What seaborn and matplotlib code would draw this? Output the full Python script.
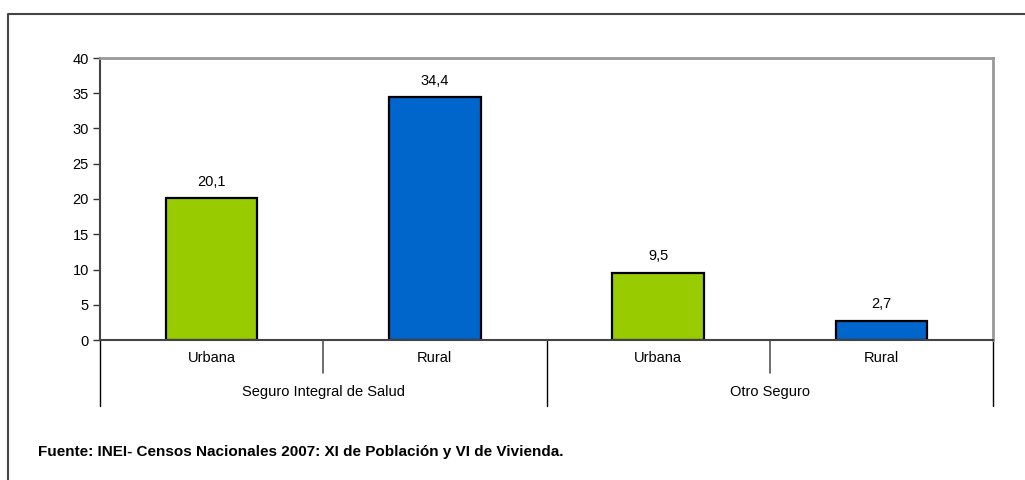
import matplotlib
matplotlib.use("Agg")
import matplotlib.pyplot as plt
import matplotlib.transforms as mtransforms
from matplotlib.lines import Line2D
import seaborn as sns
import pandas as pd

# Data
groups = ["Seguro Integral de Salud", "Seguro Integral de Salud", "Otro Seguro", "Otro Seguro"]
areas = ["Urbana", "Rural", "Urbana", "Rural"]
values = [20.1, 34.4, 9.5, 2.7]
labels = ["20,1", "34,4", "9,5", "2,7"]
group_names = ["Seguro Integral de Salud", "Otro Seguro"]
yticks = [0, 5, 10, 15, 20, 25, 30, 35, 40]

bar_colors = {"Urbana": "#99CC00", "Rural": "#0066CC"}

sns.set_style("white")
plt.rcParams["font.family"] = ["Liberation Sans", "DejaVu Sans"]
plt.rcParams["text.color"] = "black"
plt.rcParams["ytick.labelcolor"] = "black"

df = pd.DataFrame({"key": [f"{g}|{a}|{i}" for i, (g, a) in enumerate(zip(groups, areas))],
                   "area": areas, "value": values})

fig = plt.figure(figsize=(10.25, 4.8), dpi=100)
ax = fig.add_axes([100/1025, 1-340/480, (993-100)/1025, (340-58)/480])

sns.barplot(data=df, x="key", y="value", hue="area", palette=bar_colors,
            dodge=False, width=0.41, edgecolor="black", linewidth=1.6,
            saturation=1, legend=False, ax=ax)

ax.set_xlim(-0.5, 3.5)
ax.set_ylim(0, 40)
ax.set_yticks(yticks)
ax.set_yticklabels([str(t) for t in yticks], fontsize=10.5, color="black")
ax.tick_params(axis="y", direction="out", length=5, width=1, color="#333333", pad=3, left=True)
ax.set_xticks([])
ax.set_xlabel("")
ax.set_ylabel("")

for side in ["top", "right"]:
    ax.spines[side].set_color("#999999")
    ax.spines[side].set_linewidth(2)
for side in ["left", "bottom"]:
    ax.spines[side].set_color("#444444")
    ax.spines[side].set_linewidth(1.5)
ax.spines["bottom"].set_zorder(5)

# Value labels
for i, (v, lab) in enumerate(zip(values, labels)):
    ax.annotate(lab, (i, v), xytext=(0, 7), textcoords="offset points",
                ha="center", va="bottom", fontsize=10.5, color="black")

trans = mtransforms.blended_transform_factory(ax.transData, ax.transAxes)
px = 1.0 / 282.0
# Category separators
for xb in [-0.5, 1.5, 3.5]:
    ax.add_line(Line2D([xb, xb], [0, -66*px], transform=trans, color="black", lw=1, clip_on=False))
ax.add_line(Line2D([0.5, 0.5], [0, -33*px], transform=trans, color="#555555", lw=1.2, clip_on=False))
ax.add_line(Line2D([2.5, 2.5], [0, -33*px], transform=trans, color="#555555", lw=1.2, clip_on=False))

for i, a in enumerate(areas):
    ax.text(i, -18*px, a, transform=trans, ha="center", va="center", fontsize=10.5, color="black")
for gi, g in enumerate(group_names):
    ax.text(gi*2 + 0.5, -52*px, g, transform=trans, ha="center", va="center", fontsize=10.5, color="black")

# Outer frame (left and top)
fig.add_artist(Line2D([8/1025, 8/1025, 1.0], [0.0, 1-14/480, 1-14/480],
                      transform=fig.transFigure, color="#444444", lw=1.5))

fig.text(38/1025, 1-452/480, "Fuente: INEI- Censos Nacionales 2007: XI de Población y VI de Vivienda.",
         fontsize=11, fontweight="bold", ha="left", va="center", color="black",
         family=["Liberation Sans", "DejaVu Sans"])

fig.savefig("out.png", dpi=100)
